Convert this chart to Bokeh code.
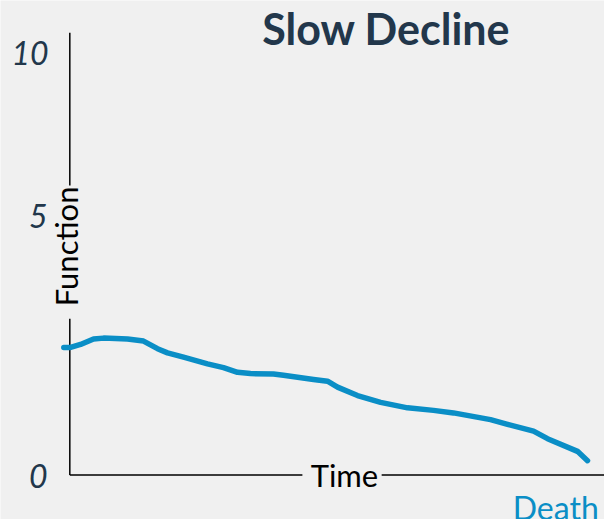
import math
from bokeh.plotting import figure
from bokeh.models import Range1d, Label
from bokeh.embed import file_html
from bokeh.resources import INLINE
from bokeh.core.properties import value

# ---- data ----
time_vals = [-1.16, 0.14, 2.07, 4.58, 6.51, 11.14, 14.23, 16.93, 18.86, 21.95,
             26.58, 29.67, 32.37, 34.88, 39.32, 41.25, 47.05, 49.75, 51.68, 55.54,
             60.0, 65.19, 70.21, 74.07, 81.22, 84.50, 89.52, 92.22, 98.01, 99.94]
function_vals = [3.02, 3.02, 3.09, 3.22, 3.24, 3.22, 3.17, 2.99, 2.89, 2.79,
                 2.63, 2.54, 2.43, 2.40, 2.39, 2.36, 2.26, 2.22, 2.08, 1.88,
                 1.72, 1.59, 1.53, 1.47, 1.31, 1.20, 1.04, 0.86, 0.56, 0.34]
tick_labels = ["0", "5", "10"]
title_text = "Slow Decline"
x_label = "Time"
y_label = "Function"
end_label = "Death"

# ---- layout / style ----
BG = "#f0f0f0"
BLUE = "#0a8ec6"
NAVY = "#22374b"
W, H = 604, 519

p = figure(width=W, height=H, output_backend="svg", toolbar_location=None,
           x_range=Range1d(-13.38, 103.22), y_range=Range1d(-1.053, 11.231),
           x_axis_location=None, y_axis_location=None,
           min_border=0, min_border_left=0, min_border_right=0,
           min_border_top=0, min_border_bottom=0)
p.background_fill_color = BG
p.border_fill_color = BG
p.outline_line_color = None
p.grid.visible = False

# axes drawn as segments with gaps for labels
p.segment(x0=[0, 0], y0=[0, 6.85], x1=[0, 0], y1=[3.70, 10.47],
          line_color="black", line_width=1.5)
p.segment(x0=[0, 60.2], y0=[0, 0], x1=[44.9, 103.3], y1=[0, 0],
          line_color="black", line_width=1.5)

# curve
p.line(time_vals, function_vals, line_color=BLUE, line_width=5.5,
       line_cap="round", line_join="round")

# tick labels
tick_y = [-0.02, 6.12, 10.0]
tick_x = [-4.3, -4.3, -4.1]
p.text(x=tick_x, y=tick_y, text=tick_labels, text_font=value("Lato"),
       text_font_style="italic", text_font_size="32px", text_color=NAVY,
       text_align="right", text_baseline="middle")

p.add_layout(Label(x=61.1, y=10.57, text=title_text, text_font="Lato",
                   text_font_style="bold", text_font_size="43px",
                   text_color=NAVY, text_align="center",
                   text_baseline="middle"))
p.add_layout(Label(x=46.5, y=0.0, text=x_label, text_font="Lato",
                   text_font_size="31px", text_color="black",
                   text_align="left", text_baseline="middle"))
p.add_layout(Label(x=85.5, y=-0.76, text=end_label, text_font="Lato",
                   text_font_size="32px", text_color=BLUE,
                   text_align="left", text_baseline="middle"))
p.add_layout(Label(x=-0.67, y=5.41, text=y_label, text_font="Lato",
                   text_font_size="31px", text_color="black",
                   angle=math.pi / 2, text_align="center",
                   text_baseline="middle"))

html = file_html(p, INLINE)
html = html.replace("<body>", '<body style="margin:0;background:#f0f0f0;overflow:hidden;">', 1)
open("out.html", "w").write(html)
